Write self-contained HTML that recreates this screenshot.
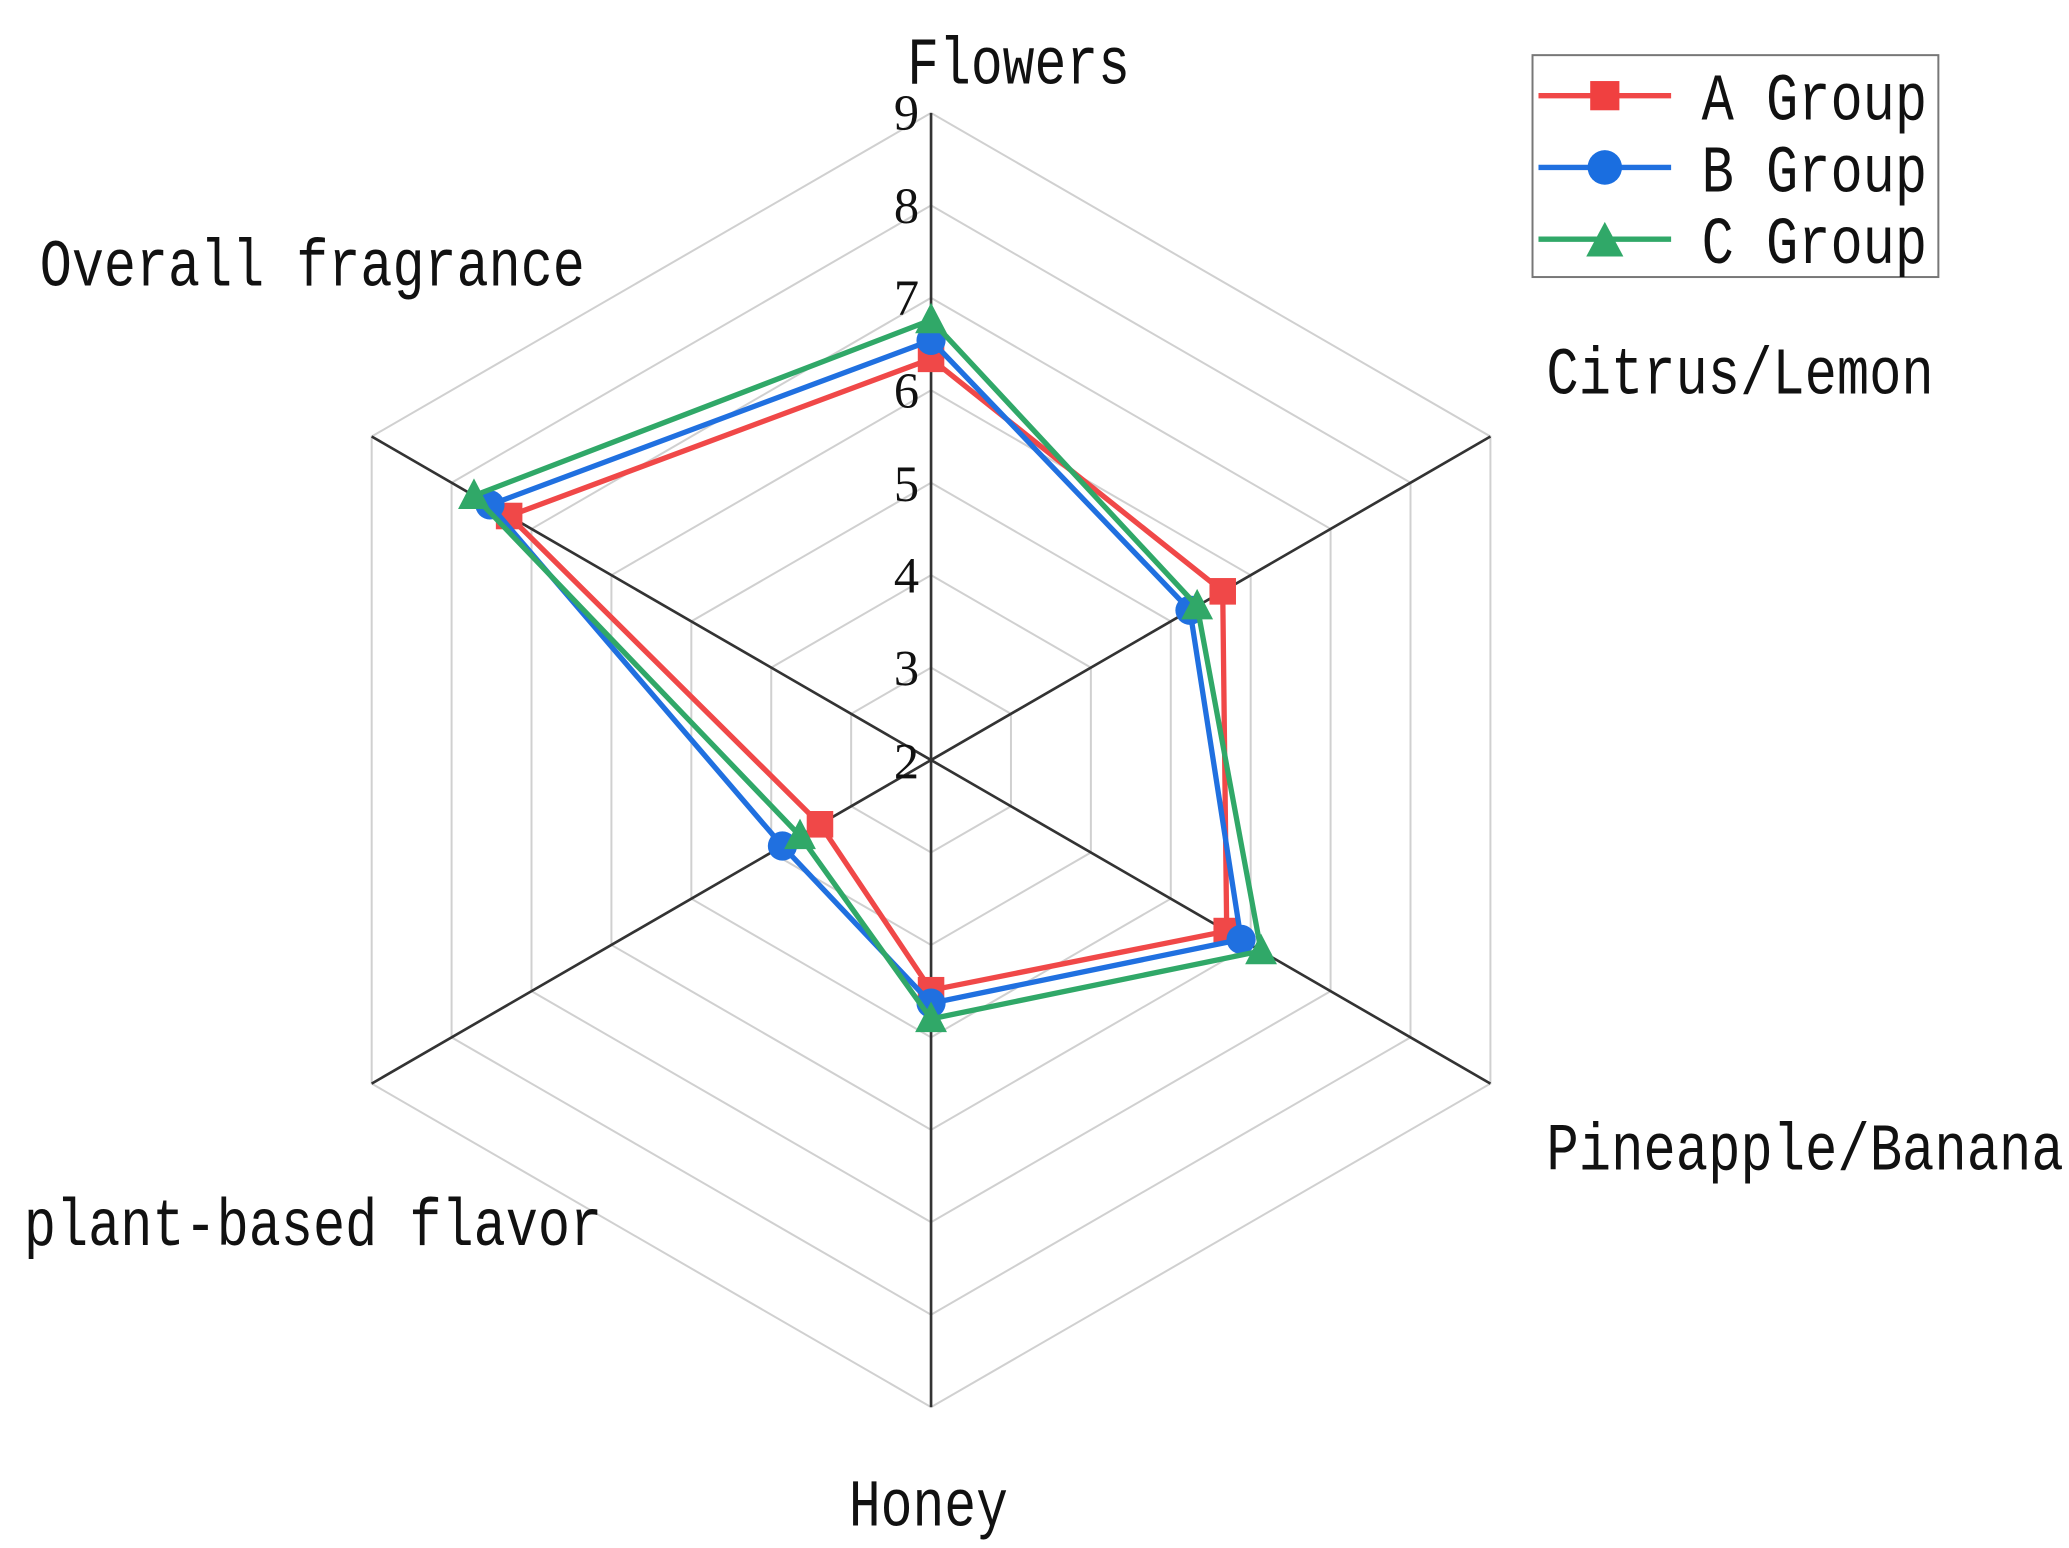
<!DOCTYPE html>
<html><head><meta charset="utf-8"><style>
html,body{margin:0;padding:0;background:#fff;}
svg{display:block;}
text{font-family:"Liberation Mono","DejaVu Sans Mono",monospace;fill:#111;}
.t{font-family:"Liberation Serif",serif;}
</style></head><body>
<svg id="s" width="2069" height="1548" viewBox="0 0 1560 1165" preserveAspectRatio="none" xmlns="http://www.w3.org/2000/svg">
<g id="grid"></g>
<g id="series"></g>
<g font-size="50">
<text x="684" y="63" textLength="168" lengthAdjust="spacingAndGlyphs">Flowers</text>
<text x="30" y="215" textLength="411" lengthAdjust="spacingAndGlyphs">Overall fragrance</text>
<text x="1166" y="296" textLength="292" lengthAdjust="spacingAndGlyphs">Citrus/Lemon</text>
<text x="1166" y="880" textLength="390" lengthAdjust="spacingAndGlyphs">Pineapple/Banana</text>
<text x="18" y="937" textLength="436" lengthAdjust="spacingAndGlyphs">plant-based flavor</text>
<text x="640" y="1148" textLength="120" lengthAdjust="spacingAndGlyphs">Honey</text>
</g>
<g font-size="38" class="t" text-anchor="end">
<text class="t" x="693" y="98">9</text>
<text class="t" x="693" y="168">8</text>
<text class="t" x="693" y="237">7</text>
<text class="t" x="693" y="307">6</text>
<text class="t" x="693" y="377">5</text>
<text class="t" x="693" y="446">4</text>
<text class="t" x="693" y="516">3</text>
<text class="t" x="693" y="586">2</text>
</g>
<rect x="1155.5" y="41.5" width="306" height="167" fill="none" stroke="#777" stroke-width="1.5"/>
<line x1="1160" y1="72" x2="1260" y2="72" stroke="#f04848" stroke-width="4"/>
<rect x="1199" y="61" width="22" height="22" fill="#f04040"/>
<line x1="1160" y1="126" x2="1260" y2="126" stroke="#2070e0" stroke-width="4"/>
<circle cx="1210" cy="126" r="13" fill="#1a6ee0"/>
<line x1="1160" y1="180" x2="1260" y2="180" stroke="#30a868" stroke-width="4"/>
<polygon points="1210,167 1224,193 1196,193" fill="#30a868"/>
<g font-size="50">
<text x="1283" y="90" textLength="170" lengthAdjust="spacingAndGlyphs">A Group</text>
<text x="1283" y="144" textLength="170" lengthAdjust="spacingAndGlyphs">B Group</text>
<text x="1283" y="198" textLength="170" lengthAdjust="spacingAndGlyphs">C Group</text>
</g>
</svg>
<script>
var NS="http://www.w3.org/2000/svg",cx=702,cy=572,R=487,step=R/7;
var ang=[-90,-30,30,90,150,210];
function pt(v,i){var r=(v-2)*step,a=ang[i]*Math.PI/180;return [cx+r*Math.cos(a),cy+r*Math.sin(a)];}
function el(t,a,p){var e=document.createElementNS(NS,t);for(var k in a)e.setAttribute(k,a[k]);p.appendChild(e);return e;}
var g=document.getElementById('grid');
for(var l=3;l<=9;l++){var ps=[];for(var i=0;i<6;i++)ps.push(pt(l,i).join(','));
el('polygon',{points:ps.join(' '),fill:'none',stroke:'#d0d0d0','stroke-width':1.5},g);}
for(var i=0;i<6;i++){var p=pt(9,i);el('line',{x1:cx,y1:cy,x2:p[0],y2:p[1],stroke:'#333','stroke-width':2},g);}
var data=[
{c:'#f04848',v:[6.34,5.65,5.7,4.49,3.39,7.28],m:'s'},
{c:'#2070e0',v:[6.54,5.24,5.88,4.63,3.86,7.52],m:'c'},
{c:'#30a868',v:[6.76,5.33,6.13,4.8,3.64,7.72],m:'t'}];
var sg=document.getElementById('series');
data.forEach(function(d){var ps=d.v.map(function(v,i){return pt(v,i);});
el('polygon',{points:ps.map(function(p){return p.join(',')}).join(' '),fill:'none',stroke:d.c,'stroke-width':4},sg);
ps.forEach(function(p){
if(d.m=='s')el('rect',{x:p[0]-10,y:p[1]-10,width:20,height:20,fill:d.c},sg);
else if(d.m=='c')el('circle',{cx:p[0],cy:p[1],r:11,fill:d.c},sg);
else el('polygon',{points:(p[0])+','+(p[1]-13)+' '+(p[0]+12)+','+(p[1]+10)+' '+(p[0]-12)+','+(p[1]+10),fill:d.c},sg);});});
</script>
</body></html>
